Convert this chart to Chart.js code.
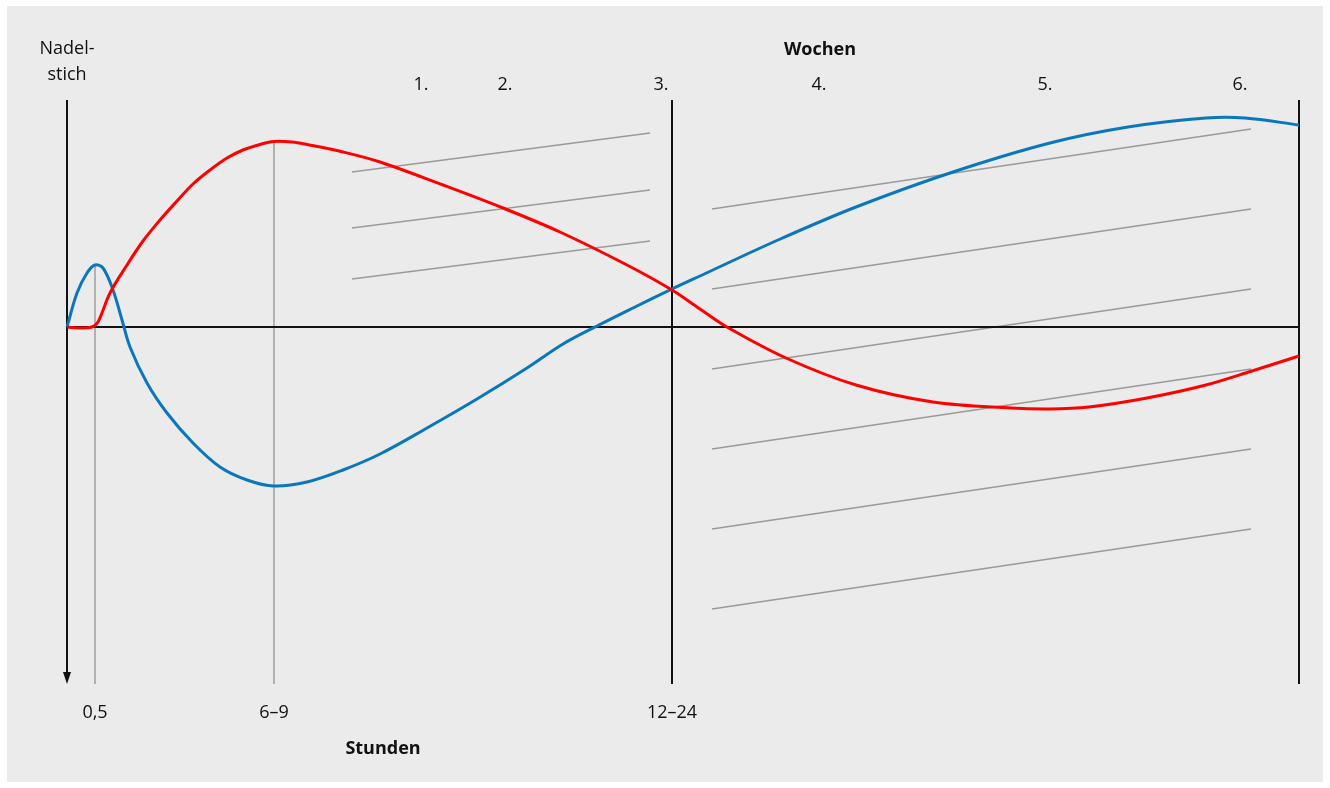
<!DOCTYPE html>
<html lang="de">
<head>
  <meta charset="UTF-8">
  <title>Nadelstich – Stunden / Wochen</title>
  <script src="https://cdn.jsdelivr.net/npm/chart.js"></script>
  <style>
    body {
      margin: 0;
      background: #ffffff;
      font-family: "Open Sans", "Noto Sans", Arial, sans-serif;
      color: #111;
    }
    .wrap {
      position: relative;
      width: 1330px;
      height: 788px;
    }
    .panel {
      position: absolute;
      left: 7px;
      top: 6px;
      width: 1316px;
      height: 776px;
      background: #ebebeb;
    }
    canvas {
      position: absolute;
      left: 0;
      top: 0;
    }
    .lbl {
      position: absolute;
      font-size: 18px;
      line-height: 18px;
      white-space: nowrap;
      transform: translateX(-50%);
      text-align: center;
    }
    .bold { font-weight: bold; }
    .two { line-height: 26px; }
  </style>
</head>
<body>
  <div class="wrap" id="wrap">
    <div class="panel"></div>
    <canvas id="chart" width="1330" height="788"></canvas>
  </div>

  <script>
    // schematic units: x = time axis (hours, then weeks), y = response (0 = baseline)
    const xMax = 1232;
    const yMin = -358, yMax = 227;

    const redCurve = [
      [0, 0], [14, -1], [25, 0], [31, 5], [43, 34], [60, 62], [76, 86], [93, 107],
      [110, 126], [126, 143], [143, 157], [160, 169], [176, 177], [193, 182.5], [207, 185.5],
      [225, 185], [240, 182.5], [276, 175], [313, 165], [376, 142], [436, 119], [493, 95],
      [560, 62], [605, 37], [633, 18], [660, 0], [719, -31], [789, -58], [866, -75],
      [944, -81], [983, -82], [1022, -80], [1080, -71], [1139, -58], [1185, -44], [1232, -29]
    ];

    const blueCurve = [
      [0, 0], [10, 34], [20, 54], [28, 62], [36, 59], [46, 37], [55, 7], [63, -20],
      [80, -56], [100, -86], [126, -116], [153, -140], [180, -153], [207, -159],
      [240, -155], [276, -143], [313, -127], [360, -101], [410, -72], [460, -41],
      [496, -17], [530, 1], [566, 19], [605, 38], [633, 51], [711, 87], [789, 120],
      [886, 155], [983, 184], [1061, 200], [1139, 209], [1178, 209], [1232, 202]
    ];

    // thin grey slanted lines: [x0, y0, x1, y1]
    const greyEarly = [
      [285, 155, 583, 194],
      [285, 99, 583, 137],
      [285, 48, 583, 86]
    ];
    const greyLate = [
      [645, 118, 1184, 198],
      [645, 38, 1184, 118],
      [645, -42, 1184, 38],
      [645, -122, 1184, -42],
      [645, -202, 1184, -122],
      [645, -282, 1184, -202]
    ];

    // vertical markers: [x, yTop]
    const hourMarks = [[28, 62], [207, 186]];
    const blackMarks = [605, 1232];
    const axisBottom = -351, arrowTip = -357;

    const hourLabels = ["0,5", "6–9", "12–24"];
    const hourPos = [28, 207, 605];
    const weekLabels = ["1.", "2.", "3.", "4.", "5.", "6."];
    const weekPos = [354, 438, 594, 752, 978, 1173];

    const pts = arr => arr.map(([x, y]) => ({ x, y }));
    const line = (data, color, width, order) => ({
      data, borderColor: color, borderWidth: width, pointRadius: 0,
      showLine: true, fill: false, tension: 0, order, clip: false
    });

    const datasets = [];
    datasets.push(Object.assign(line(pts(redCurve), "#ff0000", 3, 0), { tension: 0.35 }));
    datasets.push(Object.assign(line(pts(blueCurve), "#0a76bb", 3, 0), { tension: 0.35 }));
    greyEarly.concat(greyLate).forEach(s => {
      datasets.push(line([{ x: s[0], y: s[1] }, { x: s[2], y: s[3] }], "#9a9a9a", 1.4, 2));
    });
    hourMarks.forEach(m => {
      datasets.push(line([{ x: m[0], y: m[1] }, { x: m[0], y: arrowTip }], "#9a9a9a", 1.4, 2));
    });
    blackMarks.forEach(x => {
      datasets.push(line([{ x, y: yMax }, { x, y: arrowTip }], "#111111", 2, 1));
    });
    datasets.push(line([{ x: 0, y: yMax }, { x: 0, y: axisBottom }], "#111111", 2, 1));
    datasets.push(line([{ x: 0, y: 0 }, { x: xMax, y: 0 }], "#111111", 2, 1));

    const arrowHead = {
      id: "arrowHead",
      afterDatasetsDraw(chart) {
        const { ctx, scales } = chart;
        const px = scales.x.getPixelForValue(0);
        const tip = scales.y.getPixelForValue(arrowTip);
        ctx.save();
        ctx.fillStyle = "#111111";
        ctx.beginPath();
        ctx.moveTo(px, tip);
        ctx.lineTo(px - 4, tip - 12);
        ctx.lineTo(px + 4, tip - 12);
        ctx.closePath();
        ctx.fill();
        ctx.restore();
      }
    };

    const chart = new Chart(document.getElementById("chart"), {
      type: "scatter",
      data: { datasets },
      options: {
        responsive: false,
        animation: false,
        events: [],
        layout: { padding: { left: 67, right: 31, top: 100, bottom: 103 } },
        plugins: { legend: { display: false }, tooltip: { enabled: false } },
        scales: {
          x: { type: "linear", min: 0, max: xMax, display: false },
          y: { type: "linear", min: yMin, max: yMax, display: false }
        }
      },
      plugins: [arrowHead]
    });

    const wrap = document.getElementById("wrap");
    const area = chart.chartArea;
    const addLabel = (text, xVal, top, cls) => {
      const d = document.createElement("div");
      d.className = "lbl" + (cls ? " " + cls : "");
      d.innerHTML = text;
      d.style.left = chart.scales.x.getPixelForValue(xVal) + "px";
      d.style.top = top + "px";
      wrap.appendChild(d);
    };

    weekLabels.forEach((t, i) => addLabel(t, weekPos[i], area.top - 26));
    hourLabels.forEach((t, i) => addLabel(t, hourPos[i], area.bottom + 17));
    addLabel("Wochen", 753, area.top - 61, "bold");
    addLabel("Stunden", 316, area.bottom + 53, "bold");
    addLabel("Nadel-<br>stich", 0, area.top - 66, "two");
  </script>
</body>
</html>
